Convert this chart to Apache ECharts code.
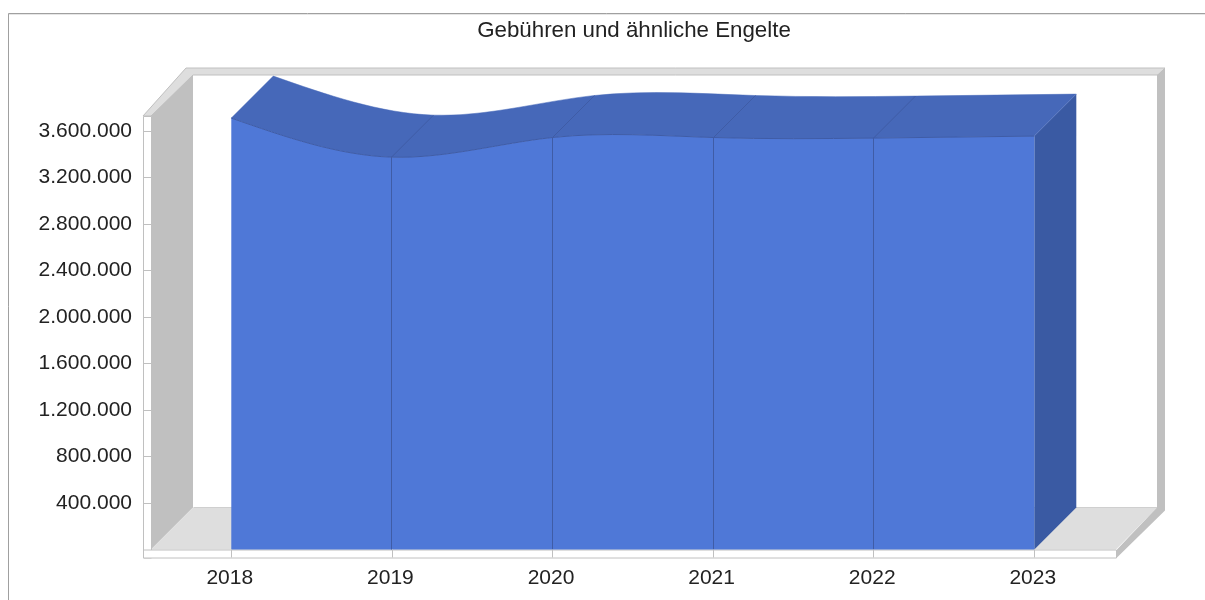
<!DOCTYPE html>
<html><head><meta charset="utf-8">
<style>html,body{margin:0;padding:0;background:#fff}#c{width:1205px;height:600px}</style>
<script src="https://cdn.jsdelivr.net/npm/echarts@6/dist/echarts.min.js"></script>
</head><body><div id="c"></div>
<script>
var chartTitle = 'Gebühren und ähnliche Engelte';
var years = ['2018','2019','2020','2021','2022','2023'];
var values = [3712000,3376000,3545000,3545000,3540000,3557000];

var DX = 42, DY = 42, OVER = 1.4;
var frontColor = '#4f78d7', topColor = '#4668b9', sideColor = '#3a5aa3', edgeColor = '#3f5ca6';
var wallColor = '#c0c0c0', lightColor = '#dedede';

function fmt(v){ return String(v).replace(/\B(?=(\d{3})+(?!\d))/g,'.'); }

// natural cubic spline through the screen points -> bezier segments
function segments(p){
  var n = p.length, M = new Array(n).fill(0), c = new Array(n).fill(0), d = new Array(n).fill(0);
  for (var i=1;i<n-1;i++){
    var r = 6*(p[i-1][1]-2*p[i][1]+p[i+1][1]);
    var w = 4 - c[i-1];
    c[i] = 1/w; d[i] = (r - d[i-1])/w;
  }
  for (var j=n-2;j>0;j--) M[j] = d[j]-c[j]*M[j+1];
  var out = [];
  for (var k=0;k<n-1;k++){
    var a=p[k], b=p[k+1], h=b[0]-a[0], dy=b[1]-a[1];
    var m0 = dy-(2*M[k]+M[k+1])/6, m1 = dy+(M[k]+2*M[k+1])/6;
    out.push([a,[a[0]+h/3,a[1]+m0/3],[b[0]-h/3,b[1]-m1/3],b]);
  }
  return out;
}
function pathForward(s,dx,dy){
  return s.map(function(g){
    return 'C'+[g[1][0]+dx,g[1][1]+dy,g[2][0]+dx,g[2][1]+dy,g[3][0]+dx,g[3][1]+dy].join(' ');
  }).join('');
}
function pathBack(s,dx,dy){
  return s.slice().reverse().map(function(g){
    return 'C'+[g[2][0]+dx,g[2][1]+dy,g[1][0]+dx,g[1][1]+dy,g[0][0]+dx,g[0][1]+dy].join(' ');
  }).join('');
}
function poly(pts,fill,stroke){
  return {type:'polygon',shape:{points:pts},style:{fill:fill,stroke:stroke||null,lineWidth:stroke?1:0}};
}

function renderSurface(params, api){
  var pts = years.map(function(_,i){ return api.coord([i, values[i]]); });
  var base = api.coord([0,0])[1];
  var s = segments(pts);
  var first = pts[0], last = pts[pts.length-1];
  var kids = [];
  kids.push(poly([[last[0],last[1]],[last[0]+DX,last[1]-DY],[last[0]+DX,base-DY],[last[0],base]],sideColor));
  kids.push({type:'path',shape:{pathData:'M'+first[0]+' '+first[1]+pathForward(s,0,0)+'L'+(last[0]+DX)+' '+(last[1]-DY)+pathBack(s,DX,-DY)+'Z'},
    style:{fill:topColor,stroke:topColor,lineWidth:0.5}});
  kids.push({type:'path',shape:{pathData:'M'+first[0]+' '+base+'L'+first[0]+' '+first[1]+pathForward(s,0,0)+'L'+last[0]+' '+base+'Z'},
    style:{fill:frontColor}});
  kids.push({type:'path',shape:{pathData:'M'+first[0]+' '+first[1]+pathForward(s,0,0)},
    style:{fill:null,stroke:edgeColor,lineWidth:1}});
  for (var i=1;i<pts.length-1;i++){
    var x = Math.floor(pts[i][0])+0.5;
    kids.push({type:'line',shape:{x1:x,y1:pts[i][1],x2:x,y2:base},style:{stroke:edgeColor,lineWidth:1}});
    kids.push({type:'line',shape:{x1:x,y1:pts[i][1],x2:x+DX,y2:pts[i][1]-DY},style:{stroke:edgeColor,lineWidth:1}});
  }
  return {type:'group',children:kids};
}

function renderWalls(params, api){
  var sys = params.coordSys;
  var L = sys.x, T = sys.y, R = sys.x+sys.width+OVER, B = sys.y+sys.height;
  var S = 8;
  var kids = [
    poly([[L,T],[L+DX,T-DY],[L+DX,B-DY],[L,B]],wallColor),
    poly([[L,B],[L+DX,B-DY],[R+DX-1,B-DY],[R,B]],lightColor),
    poly([[L+DX,T-DY+1],[R+DX-1,T-DY+1],[R+DX-1,B-DY],[L+DX,B-DY]],'#ffffff'),
    poly([[L-S,T],[L+DX-7,T-DY-7+1],[R+DX+7,T-DY-7+1],[R+DX,T-DY+1],[L+DX,T-DY+1],[L,T]],lightColor,wallColor),
    poly([[R+DX-1,T-DY+1],[R+DX+7,T-DY-6],[R+DX+7,B-DY+3],[R+1,B+S],[R+1,B],[R+DX-1,B-DY]],wallColor),
    {type:'rect',shape:{x:L-S+0.5,y:T+0.5,width:S,height:B-T+S},style:{fill:'#fff',stroke:wallColor,lineWidth:1}},
    {type:'rect',shape:{x:L-S+0.5,y:B+0.5,width:R-L+S,height:S},style:{fill:'#fff',stroke:wallColor,lineWidth:1}},
    {type:'line',shape:{x1:L+DX+0.5,y1:B-DY,x2:R+DX-1,y2:B-DY},style:{stroke:'#cfcfcf',lineWidth:1}}
  ];
  return {type:'group',children:kids};
}

var chart = echarts.init(document.getElementById('c'),null,{renderer:'canvas'});
chart.setOption({
  animation:false,
  backgroundColor:'#fff',
  title:{text:chartTitle,left:629,top:15,textAlign:'center',
    textStyle:{fontFamily:'Liberation Sans',fontSize:22.3,fontWeight:'normal',color:'#222'}},
  grid:{left:151,top:116,width:963.6,height:433.5,containLabel:false},
  xAxis:{type:'category',data:years,boundaryGap:true,
    axisLine:{show:false},
    axisTick:{show:true,alignWithLabel:true,length:8,lineStyle:{color:wallColor}},
    axisLabel:{margin:18,padding:[0,3,0,0],fontFamily:'Liberation Sans',fontSize:21,color:'#222'},
    z:5},
  yAxis:{type:'value',min:0,max:3730000,interval:400000,
    splitLine:{show:false},
    axisLine:{show:false},
    axisTick:{show:true,length:8,lineStyle:{color:wallColor}},
    axisLabel:{margin:19,fontFamily:'Liberation Sans',fontSize:21,color:'#222',showMinLabel:false,showMaxLabel:false,
      formatter:function(v){return fmt(v);}},
    z:5},
  graphic:[
    {type:'line',z:10,silent:true,shape:{x1:8.5,y1:13.5,x2:1205,y2:13.5},style:{stroke:'#a0a0a0',lineWidth:1}},
    {type:'line',z:10,silent:true,shape:{x1:8.5,y1:13.5,x2:8.5,y2:600},style:{stroke:'#a0a0a0',lineWidth:1}},
    {type:'line',z:10,silent:true,shape:{x1:9,y1:14.5,x2:1205,y2:14.5},style:{stroke:'#e6e6e6',lineWidth:1}}
  ],
  series:[
    {type:'custom',name:'Rahmen',z:1,silent:true,clip:false,coordinateSystem:'cartesian2d',
      data:[[0,0]],encode:{x:0,y:1},renderItem:renderWalls},
    {type:'custom',name:chartTitle,z:3,silent:true,clip:false,coordinateSystem:'cartesian2d',
      data:[[0,values[0]]],encode:{x:0,y:1},renderItem:renderSurface}
  ]
});
</script></body></html>
